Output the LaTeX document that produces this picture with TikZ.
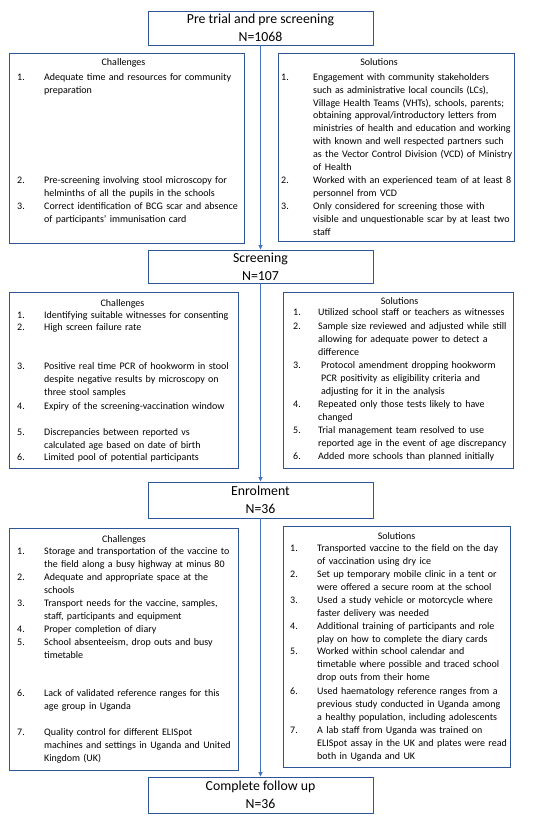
\documentclass[tikz,border=0pt]{standalone}
\usepackage{fontspec}
\setmainfont{Carlito}
\usetikzlibrary{arrows.meta}
\definecolor{boxblue}{HTML}{2F5597}
\definecolor{arrowblue}{HTML}{4472C4}
\tikzset{
  stage/.style={draw=boxblue, line width=0.9pt, minimum width=225pt, inner sep=0pt, align=center,
    font=\fontsize{13.8}{18}\selectfont},
  panel/.style={draw=boxblue, line width=0.9pt, inner sep=0pt, anchor=north west},
  head/.style={inner sep=0pt, anchor=base, font=\fontsize{10}{12.8}\selectfont},
  num/.style={inner sep=0pt, anchor=base west, font=\fontsize{10}{12.8}\selectfont},
  itm/.style={inner sep=0pt, anchor=base west, text width=200pt, align=left, font=\fontsize{10}{12.8}\selectfont},
  flow/.style={draw=arrowblue, line width=0.8pt, -{Triangle[length=4.5pt,width=4pt]}}
}
\begin{document}
\begin{tikzpicture}[x=1pt,y=-1pt]
\useasboundingbox (0,0) rectangle (557,823);
% stages
\node[stage, minimum height=34pt] (p1) at (260.5,28) {Pre trial and pre screening\\N=1068};
\node[stage, minimum height=33pt] (p2) at (260.5,266.5) {Screening\\N=107};
\node[stage, minimum height=36pt] (p3) at (260.5,500) {Enrolment\\N=36};
\node[stage, minimum height=36pt] (p4) at (260.5,795) {Complete follow up\\N=36};
\draw[flow] (p1.south) -- (p2.north);
\draw[flow] (p2.south) -- (p3.north);
\draw[flow] (p3.south) -- (p4.north);
% panels
\node[panel, minimum width=235pt, minimum height=190pt] (c1) at (9,53) {};
\node[panel, minimum width=236pt, minimum height=188pt] (s1) at (278,53) {};
\node[panel, minimum width=229pt, minimum height=176pt] (c2) at (9,292) {};
\node[panel, minimum width=230pt, minimum height=176pt] (s2) at (283,292) {};
\node[panel, minimum width=229pt, minimum height=242pt] (c3) at (9,528) {};
\node[panel, minimum width=227pt, minimum height=241pt] (s3) at (283,526) {};
% ---- panel 1 challenges
\node[head] (c1h) at (123.5,65) {Challenges};
\node[num] (c1n1) at (17,80.5) {1.};
\node[itm] (c1t1) at (44,80.5) {Adequate time and resources for community\\preparation};
\node[num] (c1n2) at (17,183.5) {2.};
\node[itm] (c1t2) at (44,183.5) {Pre-screening involving stool microscopy for\\helminths of all the pupils in the schools};
\node[num] (c1n3) at (17,209.5) {3.};
\node[itm] (c1t3) at (44,209.5) {Correct identification of BCG scar and absence\\of participants’ immunisation card};
% ---- panel 1 solutions
\node[head] (s1h) at (379,65) {Solutions};
\node[num] (s1n1) at (281,80.5) {1.};
\node[itm] (s1t1) at (313,80.5) {Engagement with community stakeholders\\such as administrative local councils (LCs),\\Village Health Teams (VHTs), schools, parents;\\obtaining approval/introductory letters from\\ministries of health and education and working\\with known and well respected partners such\\as the Vector Control Division (VCD) of Ministry\\of Health};
\node[num] (s1n2) at (281,183.5) {2.};
\node[itm] (s1t2) at (313,183.5) {Worked with an experienced team of at least 8\\personnel from VCD};
\node[num] (s1n3) at (281,209.5) {3.};
\node[itm] (s1t3) at (313,209.5) {Only considered for screening those with\\visible and unquestionable scar by at least two\\staff};
% ---- panel 2 challenges
\node[head] (c2h) at (122.5,306) {Challenges};
\node[num] (c2n1) at (17,318.5) {1.};
\node[itm] (c2t1) at (44,318.5) {Identifying suitable witnesses for consenting};
\node[num] (c2n2) at (17,330.5) {2.};
\node[itm] (c2t2) at (44,330.5) {High screen failure rate};
\node[num] (c2n3) at (17,369.5) {3.};
\node[itm] (c2t3) at (44,369.5) {Positive real time PCR of hookworm in stool\\despite negative results by microscopy on\\three stool samples};
\node[num] (c2n4) at (17,409.5) {4.};
\node[itm] (c2t4) at (44,409.5) {Expiry of the screening-vaccination window};
\node[num] (c2n5) at (17,435.5) {5.};
\node[itm] (c2t5) at (44,435.5) {Discrepancies between reported vs\\calculated age based on date of birth};
\node[num] (c2n6) at (17,460.5) {6.};
\node[itm] (c2t6) at (44,460.5) {Limited pool of potential participants};
% ---- panel 2 solutions
\node[head] (s2h) at (399.5,304) {Solutions};
\node[num] (s2n1) at (293,315.5) {1.};
\node[itm] (s2t1) at (318,315.5) {Utilized school staff or teachers as witnesses};
\node[num] (s2n2) at (293,329.5) {2.};
\node[itm] (s2t2) at (318,329.5) {Sample size reviewed and adjusted while still\\allowing for adequate power to detect a\\difference};
\node[num] (s2n3) at (293,368.5) {3.};
\node[itm] (s2t3) at (321,368.5) {Protocol amendment dropping hookworm\\PCR positivity as eligibility criteria and\\adjusting for it in the analysis};
\node[num] (s2n4) at (293,407.5) {4.};
\node[itm] (s2t4) at (318,407.5) {Repeated only those tests likely to have\\changed};
\node[num] (s2n5) at (293,433.5) {5.};
\node[itm] (s2t5) at (318,433.5) {Trial management team resolved to use\\reported age in the event of age discrepancy};
\node[num] (s2n6) at (293,459.5) {6.};
\node[itm] (s2t6) at (318,459.5) {Added more schools than planned initially};
% ---- panel 3 challenges
\node[head] (c3h) at (124,542) {Challenges};
\node[num] (c3n1) at (17,554.5) {1.};
\node[itm] (c3t1) at (44,554.5) {Storage and transportation of the vaccine to\\the field along a busy highway at minus 80};
\node[num] (c3n2) at (17,580.5) {2.};
\node[itm] (c3t2) at (44,580.5) {Adequate and appropriate space at the\\schools};
\node[num] (c3n3) at (17,606.5) {3.};
\node[itm] (c3t3) at (44,606.5) {Transport needs for the vaccine, samples,\\staff, participants and equipment};
\node[num] (c3n4) at (17,632) {4.};
\node[itm] (c3t4) at (44,632) {Proper completion of diary};
\node[num] (c3n5) at (17,645.5) {5.};
\node[itm] (c3t5) at (44,645.5) {School absenteeism, drop outs and busy\\timetable};
\node[num] (c3n6) at (17,696.5) {6.};
\node[itm] (c3t6) at (44,696.5) {Lack of validated reference ranges for this\\age group in Uganda};
\node[num] (c3n7) at (17,735.5) {7.};
\node[itm] (c3t7) at (44,735.5) {Quality control for different ELISpot\\machines and settings in Uganda and United\\Kingdom (UK)};
% ---- panel 3 solutions
\node[head] (s3h) at (396.5,539) {Solutions};
\node[num] (s3n1) at (290,551.5) {1.};
\node[itm] (s3t1) at (317,551.5) {Transported vaccine to the field on the day\\of vaccination using dry ice};
\node[num] (s3n2) at (290,577.5) {2.};
\node[itm] (s3t2) at (317,577.5) {Set up temporary mobile clinic in a tent or\\were offered a secure room at the school};
\node[num] (s3n3) at (290,603.5) {3.};
\node[itm] (s3t3) at (317,603.5) {Used a study vehicle or motorcycle where\\faster delivery was needed};
\node[num] (s3n4) at (290,629.5) {4.};
\node[itm] (s3t4) at (317,629.5) {Additional training of participants and role\\play on how to complete the diary cards};
\node[num] (s3n5) at (290,654.5) {5.};
\node[itm] (s3t5) at (317,654.5) {Worked within school calendar and\\timetable where possible and traced school\\drop outs from their home};
\node[num] (s3n6) at (290,694.5) {6.};
\node[itm] (s3t6) at (317,694.5) {Used haematology reference ranges from a\\previous study conducted in Uganda among\\a healthy population, including adolescents};
\node[num] (s3n7) at (290,733.5) {7.};
\node[itm] (s3t7) at (317,733.5) {A lab staff from Uganda was trained on\\ELISpot assay in the UK and plates were read\\both in Uganda and UK};
\end{tikzpicture}
\end{document}
